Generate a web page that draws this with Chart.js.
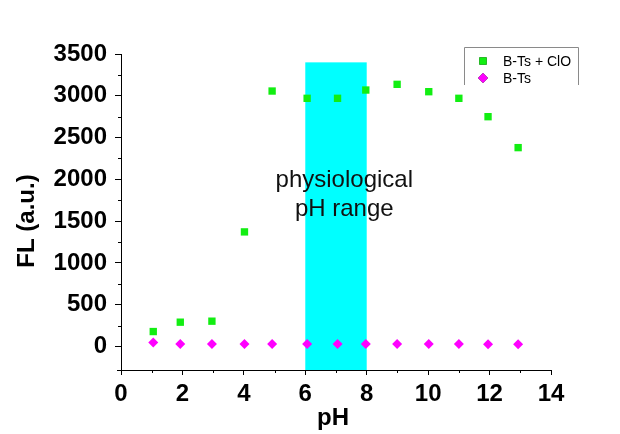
<!DOCTYPE html>
<html>
<head>
<meta charset="utf-8">
<script src="https://cdn.jsdelivr.net/npm/chart.js@4/dist/chart.umd.min.js"></script>
<style>
  html, body { margin: 0; padding: 0; background: #ffffff; }
  #wrap { width: 620px; height: 434px; }
</style>
</head>
<body>
<div id="wrap"><canvas id="c" width="620" height="434"></canvas></div>
<script>
// ---- data ----
const phValues   = [1.05, 1.93, 2.96, 4.02, 4.92, 6.06, 7.05, 7.97, 8.99, 10.02, 11.0, 11.95, 12.93];
const flProbeClO = [180, 292, 304, 1372, 3057, 2970, 2970, 3069, 3137, 3049, 2970, 2750, 2380];
const flProbe    = [50, 30, 30, 30, 30, 30, 32, 32, 32, 30, 30, 28, 28];
const seriesLabels = ['B-Ts + ClO', 'B-Ts'];

// physiological pH band
const bandStart = 6, bandEnd = 8, bandTop = 3400;
const bandLabel = ['physiological', 'pH range'];
const bandLabelX = 7.27, bandLabelY = [2000, 1655];

// axes
const xMin = 0, xMax = 14, xMajor = 2, xMinor = 1;
const yMin = -280, yMax = 3500, yMajor = 500, yMinor = 250;
const xTitle = 'pH', yTitle = 'FL (a.u.)';

const FONT = '"Liberation Sans", Arial, sans-serif';
const GREEN = '#12ee12', MAGENTA = '#ff00ff', CYAN = '#00ffff';

function range(a, b, s) { const r = []; for (let v = a; v <= b + 1e-9; v += s) r.push(Math.round(v * 1000) / 1000); return r; }

const extras = {
  id: 'extras',
  beforeDatasetsDraw(chart) {
    const { ctx, scales: { x, y }, chartArea } = chart;
    ctx.save();
    // band
    const x0 = x.getPixelForValue(bandStart), x1 = x.getPixelForValue(bandEnd);
    const yt = y.getPixelForValue(bandTop);
    ctx.fillStyle = CYAN;
    ctx.fillRect(x0, yt, x1 - x0, chartArea.bottom - yt);
    // band text
    ctx.fillStyle = '#111';
    ctx.font = '24px ' + FONT;
    ctx.textAlign = 'center';
    ctx.textBaseline = 'alphabetic';
    bandLabel.forEach((t, i) => {
      ctx.fillText(t, x.getPixelForValue(bandLabelX), y.getPixelForValue(bandLabelY[i]) + 8);
    });
    ctx.restore();
  },
  afterDraw(chart) {
    const { ctx, scales: { x, y }, chartArea } = chart;
    ctx.save();
    // minor ticks + small axis overhangs
    ctx.strokeStyle = '#000'; ctx.lineWidth = 1;
    ctx.beginPath();
    range(0, yMax, yMinor).forEach(v => {
      if (v % yMajor !== 0) {
        const py = Math.round(y.getPixelForValue(v)) + 0.5;
        ctx.moveTo(chartArea.left, py); ctx.lineTo(chartArea.left - 3, py);
      }
    });
    range(xMin, xMax, xMinor).forEach(v => {
      if (v % xMajor !== 0) {
        const px = Math.round(x.getPixelForValue(v)) + 0.5;
        ctx.moveTo(px, chartArea.bottom); ctx.lineTo(px, chartArea.bottom + 3);
      }
    });
    const by = Math.round(chartArea.bottom) + 0.5;
    ctx.moveTo(chartArea.left - 4, by); ctx.lineTo(chartArea.left, by);
    ctx.stroke();
    // axis titles
    ctx.fillStyle = '#000';
    ctx.font = 'bold 24px ' + FONT;
    ctx.textAlign = 'center';
    ctx.textBaseline = 'alphabetic';
    ctx.fillText(xTitle, 333, 425);
    ctx.save();
    ctx.translate(34, 221);
    ctx.rotate(-Math.PI / 2);
    ctx.fillText(yTitle, 0, 0);
    ctx.restore();
    // legend
    ctx.strokeStyle = '#8a8a8a'; ctx.lineWidth = 1;
    ctx.beginPath();
    ctx.moveTo(464.5, 85); ctx.lineTo(464.5, 47.5); ctx.lineTo(578.5, 47.5); ctx.lineTo(578.5, 85);
    ctx.stroke();
    ctx.font = '14px ' + FONT;
    ctx.textAlign = 'left';
    ctx.textBaseline = 'middle';
    chart.data.datasets.forEach((ds, i) => {
      const ly = 61 + i * 17;
      Chart.helpers.drawPoint(ctx, { pointStyle: ds.pointStyle, radius: ds.pointRadius, borderWidth: 0 }, 483, ly);
      ctx.fillStyle = ds.backgroundColor;
      ctx.fill();
      ctx.fillStyle = '#000';
      ctx.fillText(ds.label, 503, ly + 1);
    });
    ctx.restore();
  }
};

new Chart(document.getElementById('c'), {
  type: 'scatter',
  data: {
    datasets: [
      {
        label: seriesLabels[0],
        data: phValues.map((v, i) => ({ x: v, y: flProbeClO[i] })),
        pointStyle: 'rect', pointRadius: 5.2,
        backgroundColor: GREEN, borderColor: GREEN, borderWidth: 0
      },
      {
        label: seriesLabels[1],
        data: phValues.map((v, i) => ({ x: v, y: flProbe[i] })),
        pointStyle: 'rectRot', pointRadius: 5,
        backgroundColor: MAGENTA, borderColor: MAGENTA, borderWidth: 0
      }
    ]
  },
  options: {
    responsive: false,
    animation: false,
    events: [],
    layout: { padding: { left: 0, top: 54, right: 69, bottom: 0 } },
    plugins: { legend: { display: false }, tooltip: { enabled: false } },
    scales: {
      x: {
        type: 'linear', min: xMin, max: xMax,
        afterFit: s => { s.height = 64; },
        afterBuildTicks: s => { s.ticks = range(xMin, xMax, xMinor).map(v => ({ value: v })); },
        ticks: {
          autoSkip: false, maxRotation: 0, padding: 5, color: '#000',
          font: { family: FONT, size: 24, weight: 'bold' },
          callback: v => (v % xMajor === 0 ? String(v) : '')
        },
        grid: {
          drawOnChartArea: false, drawTicks: true, tickLength: 5,
          tickColor: c => (c.tick && c.tick.value % xMajor === 0 ? '#000' : 'rgba(0,0,0,0)')
        },
        border: { display: true, color: '#000', width: 1 }
      },
      y: {
        type: 'linear', min: yMin, max: yMax,
        afterFit: s => { s.width = 121; },
        afterBuildTicks: s => { s.ticks = range(0, yMax, yMinor).map(v => ({ value: v })); },
        ticks: {
          autoSkip: false, padding: 8, color: '#000',
          font: { family: FONT, size: 24, weight: 'bold' },
          callback: v => (v % yMajor === 0 ? String(v) : '')
        },
        grid: {
          drawOnChartArea: false, drawTicks: true, tickLength: 6,
          tickColor: c => (c.tick && c.tick.value % yMajor === 0 ? '#000' : 'rgba(0,0,0,0)')
        },
        border: { display: true, color: '#000', width: 1 }
      }
    }
  },
  plugins: [extras]
});
</script>
</body>
</html>
